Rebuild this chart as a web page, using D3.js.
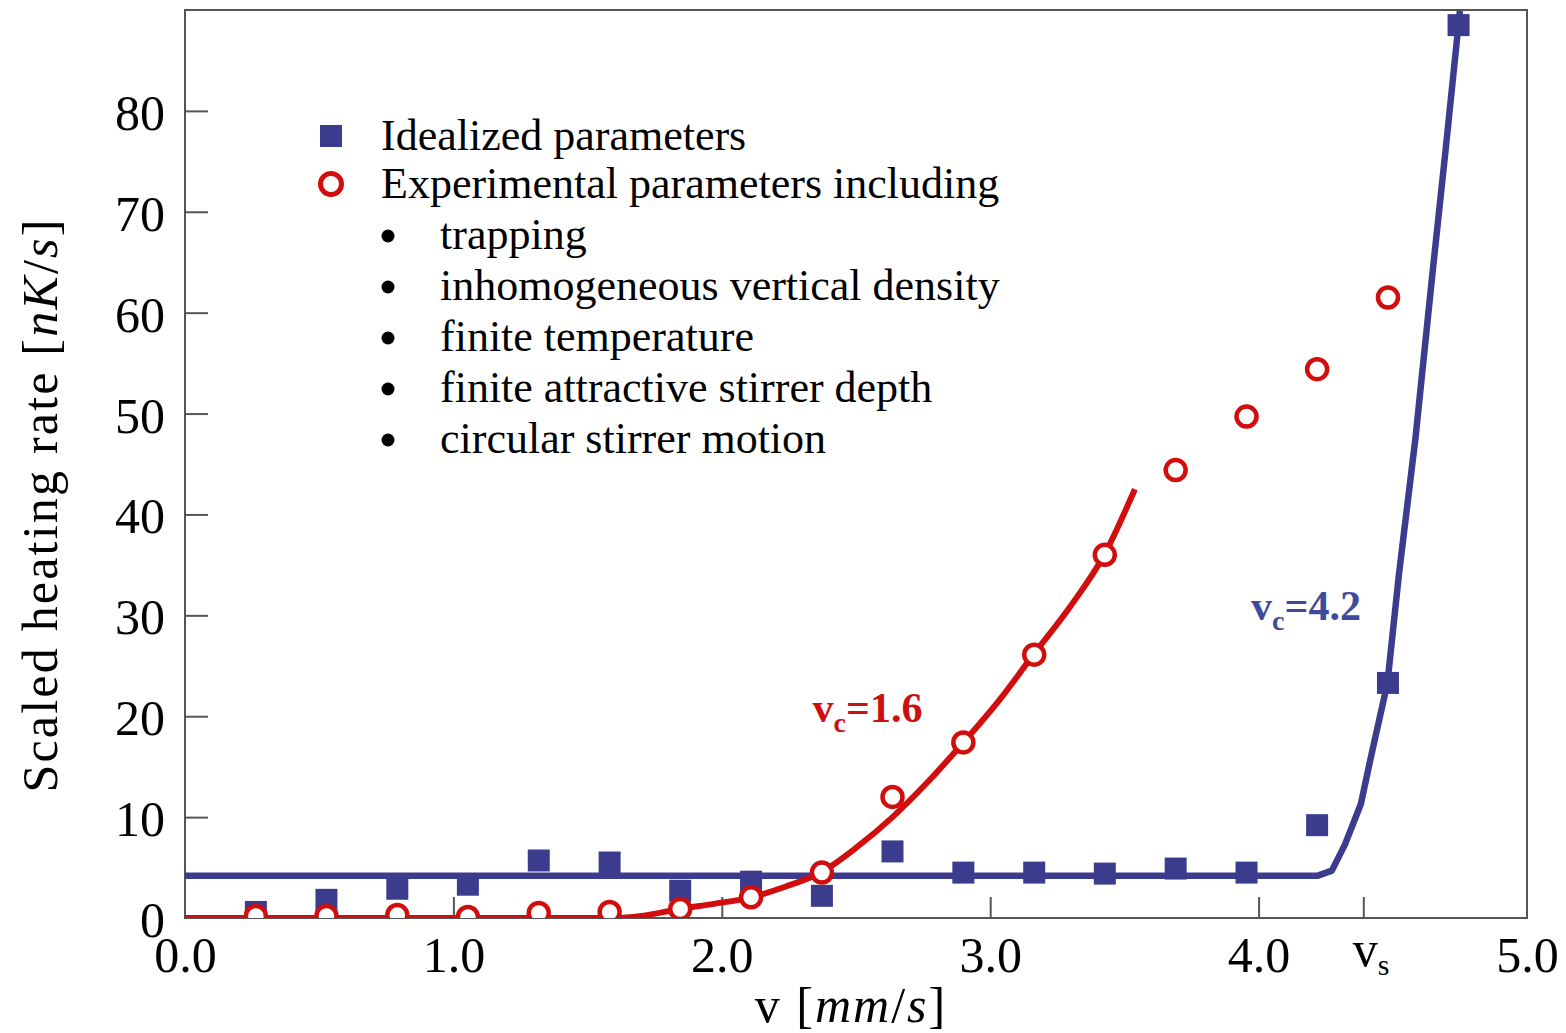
<!DOCTYPE html>
<html>
<head>
<meta charset="utf-8">
<script src="https://cdn.jsdelivr.net/npm/d3@7"></script>
<style>
  body { margin: 0; background: #fff; }
  svg { display: block; font-family: 'Liberation Serif', 'Times New Roman', serif; }
</style>
</head>
<body>
<svg id="chart"></svg>
<script>
// stirrer velocity of each simulation point [mm/s]
const velocity = [0.264, 0.527, 0.791, 1.054, 1.318, 1.582, 1.845, 2.109, 2.373, 2.636, 2.900, 3.164, 3.427, 3.691, 3.955, 4.218, 4.482, 4.745]
// scaled heating rate [nK/s]
const idealized = [0.6, 1.8, 2.9, 3.3, 5.7, 5.5, 2.7, 3.6, 2.2, 6.6, 4.5, 4.5, 4.4, 4.9, 4.5, 9.2, 23.3, 88.5]
const experimental = [0.2, 0.2, 0.3, 0.1, 0.5, 0.6, 0.9, 2.05, 4.5, 12.0, 17.4, 26.1, 36.0, 44.4, 49.7, 54.4, 61.5]

// fit curves
const idealFitV = [0, 4.221, 4.273, 4.322, 4.381, 4.418, 4.480, 4.523, 4.585, 4.647, 4.697, 4.750]
const idealFitY = [4.2, 4.2, 4.7, 7.3, 11.3, 15.9, 23.3, 34.1, 47.7, 63.7, 76.2, 89.9]
const expFitV = [0, 1.60, 1.70, 1.845, 1.97, 2.109, 2.236, 2.368, 2.502, 2.636, 2.768, 2.900, 3.034, 3.161, 3.299, 3.425, 3.539]
const expFitY = [0, 0, 0.2, 0.9, 1.4, 2.05, 3.1, 4.5, 7.0, 10.0, 13.5, 17.4, 21.6, 26.1, 30.9, 36.0, 42.5]

const vs = 4.39
const xTicks = [0, 1, 2, 3, 4, vs, 5]
const xTickLabels = ['0.0', '1.0', '2.0', '3.0', '4.0', 'vs', '5.0']
const yTicks = [0, 10, 20, 30, 40, 50, 60, 70, 80]

const seriesNames = ['Idealized parameters', 'Experimental parameters including']
const bulletItems = ['trapping', 'inhomogeneous vertical density', 'finite temperature', 'finite attractive stirrer depth', 'circular stirrer motion']
const annotations = [
  {v: 2.338, rate: 19.4, value: '1.6', series: 1},
  {v: 3.972, rate: 29.5, value: '4.2', series: 0}
]

const blue = '#3c3c8f'
const red = '#d20d0d'
const labelColors = ['#3e4a9c', '#cc1010']
const axisColor = '#555'

const W = 1566, H = 1033
const margin = {top: 10, right: 39, bottom: 115, left: 185}
const width = W - margin.left - margin.right
const height = H - margin.top - margin.bottom

const svg = d3.select('#chart').attr('width', W).attr('height', H)
const g = svg.append('g').attr('transform', `translate(${margin.left},${margin.top})`)

const x = d3.scaleLinear().domain([0, 5]).range([0, width])
const y = d3.scaleLinear().domain([0, 90]).range([height, 0])

g.append('clipPath').attr('id', 'plot-clip')
  .append('rect').attr('width', width).attr('height', height)

// axes, ticks pointing inwards
const xAxis = g.append('g').attr('transform', `translate(0,${height})`)
  .call(d3.axisBottom(x).tickValues(xTicks).tickSizeInner(-21).tickSizeOuter(0))
const yAxis = g.append('g')
  .call(d3.axisLeft(y).tickValues(yTicks).tickSizeInner(-23).tickSizeOuter(0))

for (const ax of [xAxis, yAxis]) {
  ax.attr('font-family', null).attr('font-size', 50)
  ax.select('.domain').remove()
  ax.selectAll('line').attr('stroke', axisColor).attr('stroke-width', 2)
  ax.selectAll('text').attr('fill', '#000')
}
xAxis.selectAll('.tick line').filter((d) => d === 0 || d === 5).remove()
yAxis.selectAll('.tick line').filter((d) => d === 0).remove()

xAxis.selectAll('text').attr('y', 54).attr('dy', null)
  .each(function (d, i) {
    const t = d3.select(this).text(null)
    if (xTickLabels[i] === 'vs') {
      t.attr('text-anchor', 'start').attr('x', -11).attr('y', 48)
      t.append('tspan').text('v')
      t.append('tspan').attr('font-size', 30).attr('dy', 9).text('s')
    } else {
      t.text(xTickLabels[i])
    }
  })
yAxis.selectAll('text').attr('x', -20).attr('dy', '0.37em')

// frame
g.append('rect').attr('width', width).attr('height', height)
  .attr('fill', 'none').attr('stroke', axisColor).attr('stroke-width', 2)

const plot = g.append('g').attr('clip-path', 'url(#plot-clip)')

const idealLine = d3.line().x((d) => x(d[0])).y((d) => y(d[1]))
const expLine = d3.line().x((d) => x(d[0])).y((d) => y(d[1])).curve(d3.curveMonotoneX)

plot.append('path').datum(d3.zip(idealFitV, idealFitY))
  .attr('d', idealLine).attr('fill', 'none').attr('stroke', blue).attr('stroke-width', 6.5)
  .attr('stroke-linejoin', 'round')

plot.selectAll('rect.ideal').data(d3.zip(velocity, idealized)).join('rect')
  .attr('class', 'ideal')
  .attr('x', (d) => x(d[0]) - 11).attr('y', (d) => y(d[1]) - 11)
  .attr('width', 22).attr('height', 22).attr('fill', blue)

plot.append('path').datum(d3.zip(expFitV, expFitY))
  .attr('d', expLine).attr('fill', 'none').attr('stroke', red).attr('stroke-width', 6)

plot.selectAll('circle.exp').data(d3.zip(velocity, experimental)).join('circle')
  .attr('class', 'exp')
  .attr('cx', (d) => x(d[0])).attr('cy', (d) => y(d[1])).attr('r', 10)
  .attr('fill', '#fff').attr('stroke', red).attr('stroke-width', 4.5)

// v_c labels
annotations.forEach((a) => {
  const t = g.append('text').attr('x', x(a.v)).attr('y', y(a.rate))
    .attr('font-weight', 'bold').attr('font-size', 42).attr('fill', labelColors[a.series])
  t.append('tspan').text('v')
  t.append('tspan').attr('font-size', 28).attr('dy', 10).text('c')
  t.append('tspan').attr('dy', -10).text('=' + a.value)
})

// legend
const legend = svg.append('g').attr('font-size', 44)
legend.append('rect').attr('x', 320).attr('y', 125).attr('width', 22).attr('height', 22).attr('fill', blue)
legend.append('circle').attr('cx', 331).attr('cy', 184).attr('r', 10.5)
  .attr('fill', '#fff').attr('stroke', red).attr('stroke-width', 5)
seriesNames.forEach((s, i) => {
  legend.append('text').attr('x', 381).attr('y', 150 + i * 48).text(s)
})
bulletItems.forEach((s, i) => {
  legend.append('circle').attr('cx', 388).attr('cy', 236 + i * 51).attr('r', 6.5).attr('fill', '#000')
  legend.append('text').attr('x', 440).attr('y', 249 + i * 51).text(s)
})

// axis titles
const yTitle = svg.append('text')
  .attr('transform', 'translate(57,505) rotate(-90)')
  .attr('text-anchor', 'middle').attr('font-size', 50).attr('letter-spacing', 2.2)
yTitle.append('tspan').text('Scaled heating rate [')
yTitle.append('tspan').attr('font-style', 'italic').text('nK')
yTitle.append('tspan').text('/')
yTitle.append('tspan').attr('font-style', 'italic').text('s')
yTitle.append('tspan').text(']')

const xTitle = svg.append('text').attr('x', 851).attr('y', 1022)
  .attr('text-anchor', 'middle').attr('font-size', 50).attr('letter-spacing', 2)
xTitle.append('tspan').text('v [')
xTitle.append('tspan').attr('font-style', 'italic').text('mm')
xTitle.append('tspan').text('/')
xTitle.append('tspan').attr('font-style', 'italic').text('s')
xTitle.append('tspan').text(']')
</script>
</body>
</html>
